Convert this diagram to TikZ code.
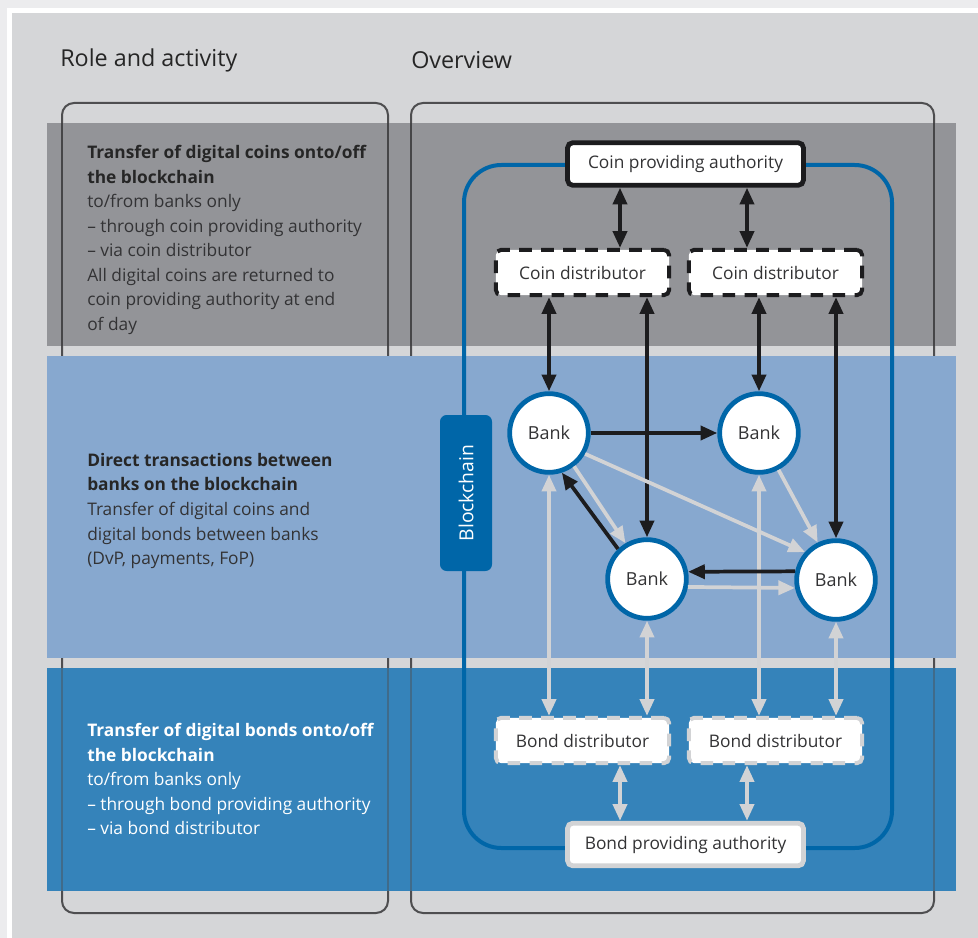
\documentclass[tikz,border=0pt]{standalone}
\usepackage{fontspec}
\setmainfont{Open Sans}
\usetikzlibrary{arrows.meta}

\definecolor{outerbg}{HTML}{ECECEE}
\definecolor{panelbg}{HTML}{D5D6D8}
\definecolor{coinband}{HTML}{939498}
\definecolor{bankband}{HTML}{87A8CF}
\definecolor{bondband}{HTML}{3583BA}
\definecolor{chainblue}{HTML}{0066A8}
\definecolor{frameline}{HTML}{4E4E50}
\definecolor{darkarrow}{HTML}{1C1C1E}
\definecolor{lightarrow}{HTML}{D2D3D5}
\definecolor{bodytext}{HTML}{333335}

\tikzset{
  tip/.tip={Triangle[length=12.5pt,width=10.5pt]},
  frame/.style={draw=frameline, line width=1.5pt, rounded corners=9pt},
  authbox/.style={rectangle, rounded corners=4pt, fill=white, line width=3.6pt,
    minimum width=177pt, minimum height=32pt, font=\fontsize{13}{15}\selectfont, text=bodytext},
  distbox/.style={rectangle, rounded corners=4pt, fill=white, line width=3pt,
    dash pattern=on 9.5pt off 7pt, minimum width=130pt, minimum height=34pt,
    font=\fontsize{13}{15}\selectfont, text=bodytext},
  bank/.style={circle, fill=white, draw=chainblue, line width=3.6pt,
    minimum size=59pt, inner sep=0pt, font=\fontsize{13.5}{15}\selectfont, text=bodytext},
  coinarrow/.style={draw=darkarrow, line width=2.8pt, -tip},
  coinboth/.style={coinarrow, tip-tip},
  bondarrow/.style={draw=lightarrow, line width=2.8pt, -tip},
  bondboth/.style={bondarrow, tip-tip},
  heading/.style={anchor=west, inner sep=0pt, font=\fontsize{17.5}{20}\selectfont, text=black!85},
  roletext/.style={anchor=north west, align=left, inner sep=0pt,
    font=\fontsize{13}{18.4}\selectfont, text=bodytext}
}

\begin{document}
\begin{tikzpicture}[x=0.75pt, y=-0.75pt]
\useasboundingbox (0,0) rectangle (978,938);

% page background with white rule and grey panel
\fill[outerbg] (0,0) rectangle (978,938);
\fill[white] (7,8) rectangle (978,938);
\fill[panelbg] (12,13) rectangle (978,938);

% column headings
\node[heading] (hrole) at (60,60) {Role and activity};
\node[heading] (hview) at (411,60) {Overview};

% column frames
\draw[frame] (62,103) rectangle (388,913);
\draw[frame] (411,103) rectangle (934,913);

% horizontal bands
\fill[coinband] (47,123) rectangle (956,346);
\fill[bankband] (47,356) rectangle (956,658);
\fill[bondband] (47,668) rectangle (956,891);

% frame edges showing through the bands
\foreach \fx in {62,388,411,934}{
  \draw[frameline!90!black, line width=1.5pt] (\fx,123) -- (\fx,346);
  \draw[frameline!45!bondband, line width=1pt] (\fx,668) -- (\fx,891);
}

% blockchain loop
\draw[chainblue, line width=3pt, rounded corners=28pt] (464,165) rectangle (892,848);

% blockchain label
\node[rectangle, rounded corners=5pt, fill=chainblue, minimum width=39pt,
  minimum height=117pt, inner sep=0pt] (chain) at (466,493) {};
\node[rotate=90, text=white, font=\fontsize{14.5}{16}\selectfont] (chainlbl) at (chain.center) {Blockchain};

% providers and distributors
\node[authbox, draw=darkarrow] (cauth) at (685.5,164) {\raisebox{-1pt}{Coin providing authority}};
\node[distbox, draw=darkarrow] (cd1) at (582.5,272.5) {Coin distributor};
\node[distbox, draw=darkarrow] (cd2) at (775.5,272.5) {Coin distributor};
\node[distbox, draw=lightarrow] (bd1) at (582.5,740.5) {Bond distributor};
\node[distbox, draw=lightarrow] (bd2) at (775.5,740.5) {Bond distributor};
\node[authbox, draw=lightarrow] (bauth) at (685.5,844.5) {\raisebox{-1pt}{Bond providing authority}};

% banks
\node[bank] (b1) at (549,433) {Bank};
\node[bank] (b2) at (759,433) {Bank};
\node[bank] (b3) at (647,579) {Bank};
\node[bank] (b4) at (836,580) {Bank};

% reference columns for vertical links
\coordinate (xl) at (620,0);
\coordinate (xr) at (747,0);

% coin flows
\draw[coinboth] (cauth.south -| xl) -- (cd1.north -| xl);
\draw[coinboth] (cauth.south -| xr) -- (cd2.north -| xr);
\draw[coinboth] (cd1.south -| b1.north) -- (b1.north);
\draw[coinboth] (cd1.south -| b3.north) -- (b3.north);
\draw[coinboth] (cd2.south -| b2.north) -- (b2.north);
\draw[coinboth] (cd2.south -| b4.north) -- (b4.north);

% bond flows
\draw[bondboth] (bd1.south -| xl) -- (bauth.north -| xl);
\draw[bondboth] (bd2.south -| xr) -- (bauth.north -| xr);
\draw[bondboth] (bd1.north -| b1.south) -- (b1.south);
\draw[bondboth] (bd1.north -| b3.south) -- (b3.south);
\draw[bondboth] (bd2.north -| b2.south) -- (b2.south);
\draw[bondboth] (bd2.north -| b4.south) -- (b4.south);

% bank to bank transfers
\draw[bondarrow] (b1.-53) -- (b3.121);
\draw[bondarrow] (b1.-30) -- (b4.138);
\draw[bondarrow] (b2.-62) -- (b4.116);
\draw[bondarrow] (b3.-11) -- (b4.191);
\draw[coinarrow] (b1.east) -- (b2.west);
\draw[coinarrow] (b3.134) -- (b1.-72);
\draw[coinarrow] (b4.168) -- (b3.10);

% role descriptions
\node[roletext] (tcoin) at (87,145) {\textbf{\color{black!85}Transfer of digital coins onto/off}\\
  \textbf{\color{black!85}the blockchain}\\
  to/from banks only\\
  -- through coin providing authority\\
  -- via coin distributor\\
  All digital coins are returned to\\
  coin providing authority at end\\
  of day};
\node[roletext] (tbank) at (87,453) {\textbf{\color{black!85}Direct transactions between}\\
  \textbf{\color{black!85}banks on the blockchain}\\
  Transfer of digital coins and\\
  digital bonds between banks\\
  (DvP, payments, FoP)};
\node[roletext, text=white] (tbond) at (87,723) {\textbf{Transfer of digital bonds onto/off}\\
  \textbf{the blockchain}\\
  to/from banks only\\
  -- through bond providing authority\\
  -- via bond distributor};
\end{tikzpicture}
\end{document}
